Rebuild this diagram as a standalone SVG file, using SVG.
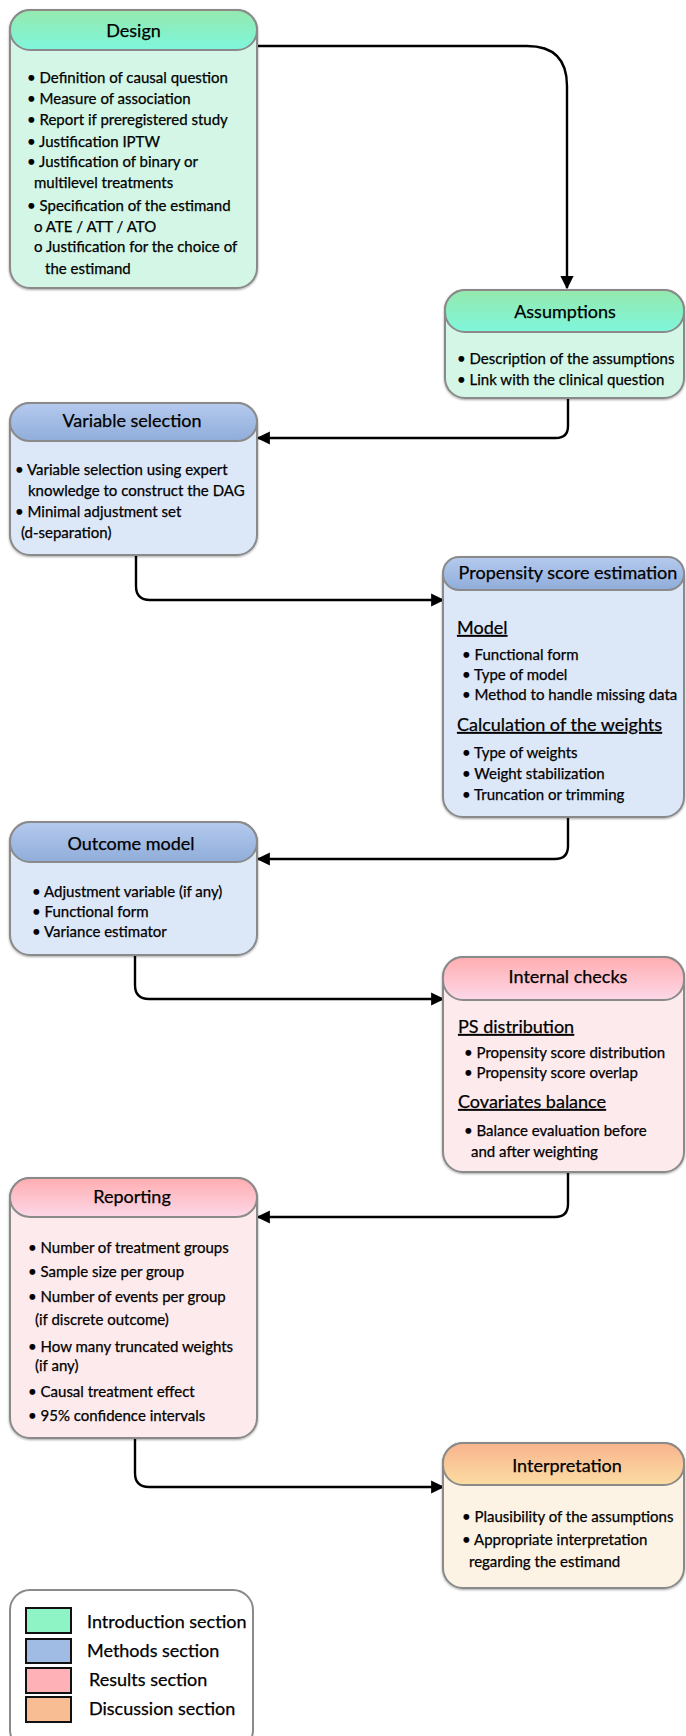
<svg xmlns="http://www.w3.org/2000/svg" width="686" height="1736" viewBox="0 0 686 1736">
  <defs>
    <linearGradient id="hdrGreen" x1="0" y1="0" x2="0" y2="1">
      <stop offset="0" stop-color="#95e9ad"/>
      <stop offset="1" stop-color="#7ef6dc"/>
    </linearGradient>
    <linearGradient id="hdrBlue" x1="0" y1="0" x2="0" y2="1">
      <stop offset="0" stop-color="#b5caee"/>
      <stop offset="1" stop-color="#8fadda"/>
    </linearGradient>
    <linearGradient id="hdrPink" x1="0" y1="0" x2="0" y2="1">
      <stop offset="0" stop-color="#ffadb0"/>
      <stop offset="1" stop-color="#fcd8e8"/>
    </linearGradient>
    <linearGradient id="hdrOrange" x1="0" y1="0" x2="0" y2="1">
      <stop offset="0" stop-color="#f8b48e"/>
      <stop offset="1" stop-color="#fcdca2"/>
    </linearGradient>
    <filter id="shadow" x="-5%" y="-5%" width="110%" height="110%">
      <feDropShadow dx="0" dy="1" stdDeviation="1.2" flood-color="#000" flood-opacity="0.35"/>
    </filter>
    <marker id="arrow" viewBox="0 0 10 10" refX="9" refY="5" markerWidth="5.5" markerHeight="5.5" markerUnits="strokeWidth" orient="auto">
      <path d="M0,0 L10,5 L0,10 z" fill="#000"/>
    </marker>
  </defs>
  <style>
    .box { stroke: #8a8a8a; stroke-width: 2; filter: url(#shadow); }
    .hdr { stroke: #8a8a8a; stroke-width: 2; }
    .green { fill: #d3f6e6; }
    .blue { fill: #dce7f8; }
    .pink { fill: #fdeaec; }
    .orange { fill: #fdf3e5; }
    text { font-family: Lato, "Open Sans", sans-serif; fill: #000; stroke: #000; stroke-width: 0.25; }
    .title { font-size: 18px; text-anchor: middle; }
    .item { font-size: 15px; }
    .sub { font-size: 18px; text-decoration: underline; }
    .legend { font-size: 18px; }
    .conn { fill: none; stroke: #000; stroke-width: 2.4; marker-end: url(#arrow); }
    .swatch { stroke: #111; stroke-width: 2; }
  </style>

  <!-- connectors between the stages -->
  <g id="connectors">
    <path class="conn" d="M257,46 H527 Q567,46 567,86 V288"/>
    <path class="conn" d="M568,398 V426 Q568,438 556,438 H258"/>
    <path class="conn" d="M136,555 V586 Q136,600 150,600 H443"/>
    <path class="conn" d="M568,817 V846 Q568,859 555,859 H258"/>
    <path class="conn" d="M135,955 V985 Q135,999 149,999 H443"/>
    <path class="conn" d="M568,1172 V1204 Q568,1217 555,1217 H258"/>
    <path class="conn" d="M135,1438 V1473 Q135,1487 149,1487 H443"/>
  </g>

  <!-- Design -->
  <g id="design">
    <rect class="box green" x="10" y="10" width="247" height="278" rx="20"/>
    <rect class="hdr" x="10" y="10" width="247" height="40" rx="20" fill="url(#hdrGreen)"/>
    <text class="title" x="133.5" y="37">Design</text>
    <text class="item" x="27" y="83">• Definition of causal question</text>
    <text class="item" x="27" y="104">• Measure of association</text>
    <text class="item" x="27" y="125">• Report if preregistered study</text>
    <text class="item" x="27" y="147">• Justification IPTW</text>
    <text class="item" x="27" y="167">• Justification of binary or</text>
    <text class="item" x="34" y="188">multilevel treatments</text>
    <text class="item" x="27" y="211">• Specification of the estimand</text>
    <text class="item" x="34" y="232">o ATE / ATT / ATO</text>
    <text class="item" x="34" y="252">o Justification for the choice of</text>
    <text class="item" x="45" y="274">the estimand</text>
  </g>

  <!-- Assumptions -->
  <g id="assumptions">
    <rect class="box green" x="445" y="290" width="239" height="108" rx="20"/>
    <rect class="hdr" x="445" y="290" width="239" height="42" rx="20" fill="url(#hdrGreen)"/>
    <text class="title" x="565" y="318">Assumptions</text>
    <text class="item" x="457" y="364">• Description of the assumptions</text>
    <text class="item" x="457" y="385">• Link with the clinical question</text>
  </g>

  <!-- Variable selection -->
  <g id="variable-selection">
    <rect class="box blue" x="10" y="403" width="247" height="152" rx="20"/>
    <rect class="hdr" x="10" y="403" width="247" height="38" rx="20" fill="url(#hdrBlue)"/>
    <text class="title" x="132" y="427">Variable selection</text>
    <text class="item" x="15" y="475">• Variable selection using expert</text>
    <text class="item" x="28" y="496">knowledge to construct the DAG</text>
    <text class="item" x="15" y="517">• Minimal adjustment set</text>
    <text class="item" x="21" y="538">(d-separation)</text>
  </g>

  <!-- Propensity score estimation -->
  <g id="ps-estimation">
    <rect class="box blue" x="443" y="557" width="241" height="260" rx="20"/>
    <rect class="hdr" x="443" y="557" width="241" height="33" rx="16" fill="url(#hdrBlue)"/>
    <text class="title" x="568" y="579">Propensity score estimation</text>
    <text class="sub" x="457" y="634">Model</text>
    <text class="item" x="462" y="660">• Functional form</text>
    <text class="item" x="462" y="680">• Type of model</text>
    <text class="item" x="462" y="700">• Method to handle missing data</text>
    <text class="sub" x="457" y="731">Calculation of the weights</text>
    <text class="item" x="462" y="758">• Type of weights</text>
    <text class="item" x="462" y="779">• Weight stabilization</text>
    <text class="item" x="462" y="800">• Truncation or trimming</text>
  </g>

  <!-- Outcome model -->
  <g id="outcome-model">
    <rect class="box blue" x="10" y="822" width="247" height="133" rx="20"/>
    <rect class="hdr" x="10" y="822" width="247" height="40" rx="20" fill="url(#hdrBlue)"/>
    <text class="title" x="131" y="850">Outcome model</text>
    <text class="item" x="32" y="897">• Adjustment variable (if any)</text>
    <text class="item" x="32" y="917">• Functional form</text>
    <text class="item" x="32" y="937">• Variance estimator</text>
  </g>

  <!-- Internal checks -->
  <g id="internal-checks">
    <rect class="box pink" x="443" y="957" width="241" height="215" rx="20"/>
    <rect class="hdr" x="443" y="957" width="241" height="43" rx="20" fill="url(#hdrPink)"/>
    <text class="title" x="568" y="983">Internal checks</text>
    <text class="sub" x="458" y="1033">PS distribution</text>
    <text class="item" x="464" y="1058">• Propensity score distribution</text>
    <text class="item" x="464" y="1078">• Propensity score overlap</text>
    <text class="sub" x="458" y="1108">Covariates balance</text>
    <text class="item" x="464" y="1136">• Balance evaluation before</text>
    <text class="item" x="471" y="1157">and after weighting</text>
  </g>

  <!-- Reporting -->
  <g id="reporting">
    <rect class="box pink" x="10" y="1178" width="247" height="260" rx="20"/>
    <rect class="hdr" x="10" y="1178" width="247" height="39" rx="20" fill="url(#hdrPink)"/>
    <text class="title" x="132" y="1203">Reporting</text>
    <text class="item" x="28" y="1253">• Number of treatment groups</text>
    <text class="item" x="28" y="1277">• Sample size per group</text>
    <text class="item" x="28" y="1302">• Number of events per group</text>
    <text class="item" x="35" y="1325">(if discrete outcome)</text>
    <text class="item" x="28" y="1352">• How many truncated weights</text>
    <text class="item" x="35" y="1371">(if any)</text>
    <text class="item" x="28" y="1397">• Causal treatment effect</text>
    <text class="item" x="28" y="1421">• 95% confidence intervals</text>
  </g>

  <!-- Interpretation -->
  <g id="interpretation">
    <rect class="box orange" x="443" y="1443" width="241" height="145" rx="20"/>
    <rect class="hdr" x="443" y="1443" width="241" height="42" rx="20" fill="url(#hdrOrange)"/>
    <text class="title" x="567" y="1472">Interpretation</text>
    <text class="item" x="462" y="1522">• Plausibility of the assumptions</text>
    <text class="item" x="462" y="1545">• Appropriate interpretation</text>
    <text class="item" x="469" y="1567">regarding the estimand</text>
  </g>

  <!-- Legend -->
  <g id="legend">
    <rect x="10" y="1590" width="243" height="160" rx="20" fill="#fff" stroke="#8a8a8a" stroke-width="2"/>
    <rect class="swatch" x="26" y="1608" width="45" height="25" fill="#8ef4c6"/>
    <rect class="swatch" x="26" y="1639" width="45" height="24" fill="#a1bce4"/>
    <rect class="swatch" x="26" y="1668" width="45" height="25" fill="#ffb1b8"/>
    <rect class="swatch" x="26" y="1697" width="45" height="25" fill="#f9bd94"/>
    <text class="legend" x="87" y="1628">Introduction section</text>
    <text class="legend" x="87" y="1657">Methods section</text>
    <text class="legend" x="89" y="1686">Results section</text>
    <text class="legend" x="89" y="1715">Discussion section</text>
  </g>
</svg>
